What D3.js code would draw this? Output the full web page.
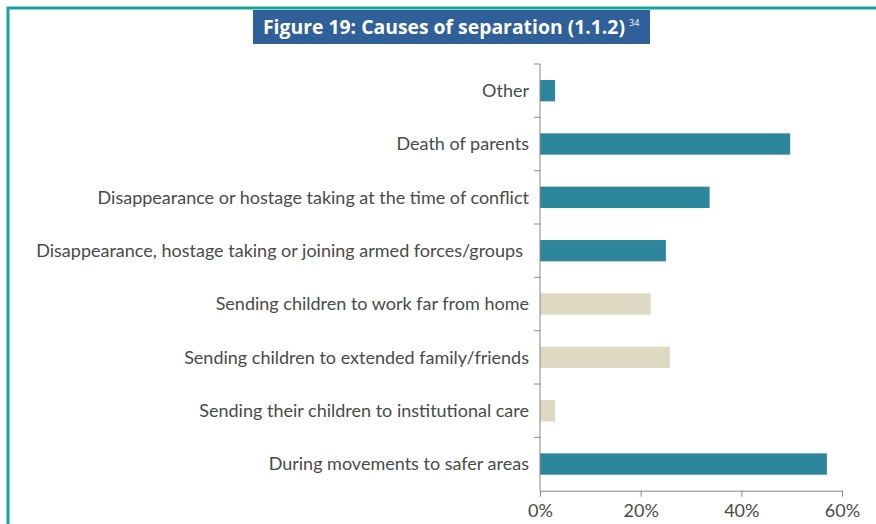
<!DOCTYPE html>
<html><head><meta charset="utf-8">
<script src="https://cdn.jsdelivr.net/npm/d3@7"></script>
<style>body{margin:0;background:#fff}svg{display:block}</style>
</head><body>
<svg id="c" width="876" height="524"></svg>
<script>
const categories = ["Other","Death of parents","Disappearance or hostage taking at the time of conflict","Disappearance, hostage taking or joining armed forces/groups","Sending children to work far from home","Sending children to extended family/friends","Sending their children to institutional care","During movements to safer areas"];
const values = [3, 49.7, 33.7, 25, 22, 25.8, 3, 57];
const groups = ["a","a","a","a","b","b","b","a"];
const xTicks = [0, 20, 40, 60];
const titleText = "Figure 19: Causes of separation (1.1.2)";
const titleNote = "34";

const svg = d3.select("#c");
const font = "'Open Sans', sans-serif";
const lfont = "Lato, sans-serif";
// frame
svg.append("rect").attr("x",8).attr("y",8).attr("width",880).attr("height",530)
  .attr("fill","none").attr("stroke","#16a59c").attr("stroke-width",3);
// title box
svg.append("rect").attr("x",253).attr("y",10).attr("width",397).attr("height",34).attr("fill","#30609a");
const tt = svg.append("text").attr("x",263).attr("y",34).attr("fill","#fff")
  .style("font-family",font).style("font-weight","bold").style("font-size","19px");
tt.append("tspan").text(titleText).attr("textLength",362).attr("lengthAdjust","spacingAndGlyphs");
tt.append("tspan").text(titleNote).attr("dx",4).attr("dy",-8).style("font-size","9px").style("font-weight","normal");

const x = d3.scaleLinear().domain([0,60]).range([540,842]);
const y = d3.scaleBand().domain(categories).range([64,490.7]).paddingInner(0.6).paddingOuter(0.3);
const color = d3.scaleOrdinal().domain(["a","b"]).range(["#2d859e","#ddd9c3"]);

svg.selectAll("rect.bar").data(categories).join("rect").attr("class","bar")
  .attr("x",x(0)).attr("y",d=>y(d)).attr("height",y.bandwidth())
  .attr("width",(d,i)=>x(values[i])-x(0)).attr("fill",(d,i)=>color(groups[i]));

// y axis
const yb = d3.scaleBand().domain(categories).range([64,490.7]);
const ya = svg.append("g");
ya.append("line").attr("x1",540).attr("x2",540).attr("y1",64).attr("y2",490.7).attr("stroke","#868686");
ya.selectAll("line.t").data(categories).join("line").attr("class","t")
  .attr("x1",534).attr("x2",540).attr("y1",d=>yb(d)).attr("y2",d=>yb(d)).attr("stroke","#868686");
ya.selectAll("text").data(categories).join("text")
  .attr("x",(d,i)=>i===3?523:529).attr("y",d=>yb(d)+yb.bandwidth()/2).attr("dy","0.35em")
  .attr("text-anchor","end").attr("fill","#4a4a4a")
  .style("font-family",lfont).style("font-size","18px").text(d=>d);

// x axis
const xa = svg.append("g").attr("transform","translate(0,490.7)")
  .call(d3.axisBottom(x).tickValues(xTicks).tickFormat(d=>d+"%").tickSize(6).tickSizeOuter(0));
xa.select(".domain").attr("stroke","#868686");
xa.selectAll(".tick line").attr("stroke","#868686");
xa.selectAll(".tick text").attr("fill","#4a4a4a").attr("y",14)
  .style("font-family",lfont).style("font-size","18px");
</script>
</body></html>
